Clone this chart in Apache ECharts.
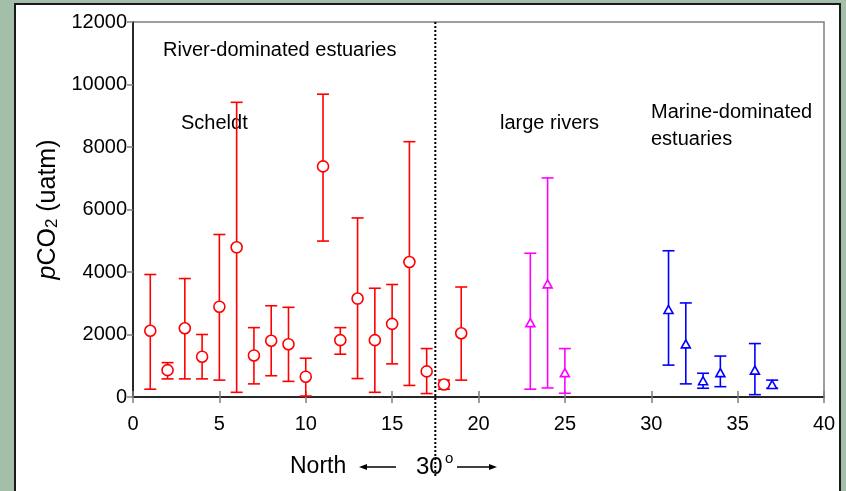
<!DOCTYPE html>
<html>
<head>
<meta charset="utf-8">
<script src="https://cdn.jsdelivr.net/npm/echarts@6/dist/echarts.min.js"></script>
<style>
  html, body { margin: 0; padding: 0; }
  #chart { width: 846px; height: 491px; }
</style>
</head>
<body>
<div id="chart"></div>
<script>
// river-dominated estuaries (red circles)
const riverX = [1, 2, 3, 4, 5, 6, 7, 8, 9, 10, 11, 12, 13, 14, 15, 16, 17, 18, 19];
const riverMean = [2120, 860, 2200, 1290, 2890, 4790, 1330, 1800, 1690, 650, 7380, 1820, 3150, 1820, 2340, 4320, 820, 400, 2040];
const riverHigh = [3920, 1100, 3790, 2000, 5200, 9430, 2220, 2920, 2870, 1240, 9690, 2220, 5730, 3480, 3600, 8170, 1550, 540, 3520];
const riverLow = [250, 580, 580, 580, 540, 150, 420, 680, 500, 30, 4990, 1370, 590, 150, 1060, 370, 110, 250, 540];

// large rivers (magenta triangles)
const largeX = [23, 24, 25];
const largeMean = [2380, 3620, 780];
const largeHigh = [4600, 7010, 1550];
const largeLow = [250, 290, 120];

// marine-dominated estuaries (blue triangles)
const marineX = [31, 32, 33, 34, 36, 37];
const marineMean = [2800, 1700, 520, 780, 860, 400];
const marineHigh = [4680, 3010, 760, 1310, 1710, 540];
const marineLow = [1020, 420, 280, 330, 75, 280];

const latitudeSplit = 17.5;
const yTicks = [0, 2000, 4000, 6000, 8000, 10000, 12000];

const font = '"Liberation Sans", Arial, sans-serif';

const zip = (xs, a) => xs.map((x, i) => [x, a[i]]);
const zipBars = (xs, lo, hi) => xs.map((x, i) => [x, lo[i], hi[i]]);

const errorBars = (color) => (params, api) => {
  const x = api.value(0);
  const top = api.coord([x, api.value(2)]);
  const bot = api.coord([x, api.value(1)]);
  const w = 6;
  const style = { stroke: color, lineWidth: 1.6 };
  return {
    type: 'group',
    children: [
      { type: 'line', shape: { x1: top[0], y1: top[1], x2: bot[0], y2: bot[1] }, style },
      { type: 'line', shape: { x1: top[0] - w, y1: top[1], x2: top[0] + w, y2: top[1] }, style },
      { type: 'line', shape: { x1: bot[0] - w, y1: bot[1], x2: bot[0] + w, y2: bot[1] }, style }
    ]
  };
};

const chart = echarts.init(document.getElementById('chart'));

chart.setOption({
  backgroundColor: '#a3bfaa',
  animation: false,
  graphic: [
    {
      type: 'rect', z: -10,
      shape: { x: 15, y: 4, width: 825, height: 500 },
      style: { fill: '#fff', stroke: '#1a1a1a', lineWidth: 2 }
    },
    { type: 'text', left: 163, top: 40, style: { text: 'River-dominated estuaries', font: '20px ' + font, fill: '#000' } },
    { type: 'text', left: 181, top: 113, style: { text: 'Scheldt', font: '20px ' + font, fill: '#000' } },
    { type: 'text', left: 500, top: 113, style: { text: 'large rivers', font: '20px ' + font, fill: '#000' } },
    { type: 'text', left: 651, top: 99, style: { text: 'Marine-dominated\nestuaries', font: '20px ' + font, lineHeight: 27, fill: '#000' } },
    { type: 'text', left: 290, top: 455, style: { text: 'North', font: '23px ' + font, fill: '#000' } },
    { type: 'text', left: 416, top: 455, style: { text: '30', font: '24px ' + font, fill: '#000' } },
    { type: 'text', left: 445, top: 451, style: { text: 'o', font: '15px ' + font, fill: '#000' } },
    { type: 'line', shape: { x1: 362, y1: 467, x2: 396, y2: 467 }, style: { stroke: '#000', lineWidth: 1.5 } },
    { type: 'polygon', shape: { points: [[359, 467], [367, 464], [367, 470]] }, style: { fill: '#000' } },
    { type: 'line', shape: { x1: 457, y1: 467, x2: 494, y2: 467 }, style: { stroke: '#000', lineWidth: 1.5 } },
    { type: 'polygon', shape: { points: [[497, 467], [489, 464], [489, 470]] }, style: { fill: '#000' } }
  ],
  grid: {
    left: 133, right: 22, top: 22, bottom: 94,
    show: true, borderColor: '#7f7f7f', borderWidth: 1.5, backgroundColor: 'transparent'
  },
  xAxis: [
    {
      type: 'value', min: 0, max: 40, interval: 5,
      axisLine: { onZero: false, lineStyle: { color: '#000', width: 1.5 } },
      axisTick: { show: true, length: 6, lineStyle: { color: '#7f7f7f', width: 1.5 } },
      axisLabel: { color: '#000', fontSize: 20, fontFamily: font, margin: 17 },
      splitLine: { show: false }
    },
    {
      type: 'value', min: 0, max: 40, interval: 5, position: 'bottom',
      axisLine: { show: false },
      axisTick: { show: true, inside: true, length: 6, lineStyle: { color: '#7f7f7f', width: 1.5 } },
      axisLabel: { show: false },
      splitLine: { show: false }
    }
  ],
  yAxis: {
    type: 'value', min: yTicks[0], max: yTicks[yTicks.length - 1], interval: 2000,
    axisLine: { show: true, lineStyle: { color: '#000', width: 1.5 } },
    axisTick: { show: true, length: 6, lineStyle: { color: '#7f7f7f', width: 1.5 } },
    axisLabel: { color: '#000', fontSize: 20, fontFamily: font, margin: 6, formatter: v => String(v) },
    splitLine: { show: false },
    name: '{i|p}CO{s|2} (uatm)',
    nameLocation: 'middle',
    nameGap: 72,
    nameTextStyle: {
      color: '#000', fontSize: 25, fontFamily: font,
      rich: {
        i: { fontSize: 25, fontStyle: 'italic', fontFamily: font, color: '#000' },
        s: { fontSize: 17, fontFamily: font, color: '#000', padding: [8, 0, 0, 0] }
      }
    }
  },
  series: [
    {
      type: 'custom', clip: false, silent: true, z: 1,
      renderItem: (params, api) => {
        const top = api.coord([api.value(0), yTicks[yTicks.length - 1]]);
        const bot = api.coord([api.value(0), yTicks[0]]);
        return {
          type: 'line',
          shape: { x1: top[0], y1: top[1], x2: bot[0], y2: bot[1] + 80 },
          style: { stroke: '#000', lineWidth: 2, lineDash: [2, 2] }
        };
      },
      data: [[latitudeSplit]]
    },
    { type: 'custom', renderItem: errorBars('#ff0000'), data: zipBars(riverX, riverLow, riverHigh), z: 2 },
    { type: 'custom', renderItem: errorBars('#ff00ff'), data: zipBars(largeX, largeLow, largeHigh), z: 2 },
    { type: 'custom', renderItem: errorBars('#0000ff'), data: zipBars(marineX, marineLow, marineHigh), z: 2 },
    {
      type: 'scatter', data: zip(riverX, riverMean), symbol: 'circle', symbolSize: 11, z: 3,
      itemStyle: { color: '#fff', borderColor: '#ff0000', borderWidth: 1.6, opacity: 1 }
    },
    {
      type: 'scatter', data: zip(largeX, largeMean), symbol: 'triangle', symbolSize: [9, 8], z: 3,
      itemStyle: { color: '#fff', borderColor: '#ff00ff', borderWidth: 1.6, opacity: 1 }
    },
    {
      type: 'scatter', data: zip(marineX, marineMean), symbol: 'triangle', symbolSize: [9, 8], z: 3,
      itemStyle: { color: '#fff', borderColor: '#0000ff', borderWidth: 1.6, opacity: 1 }
    }
  ]
});
</script>
</body>
</html>
